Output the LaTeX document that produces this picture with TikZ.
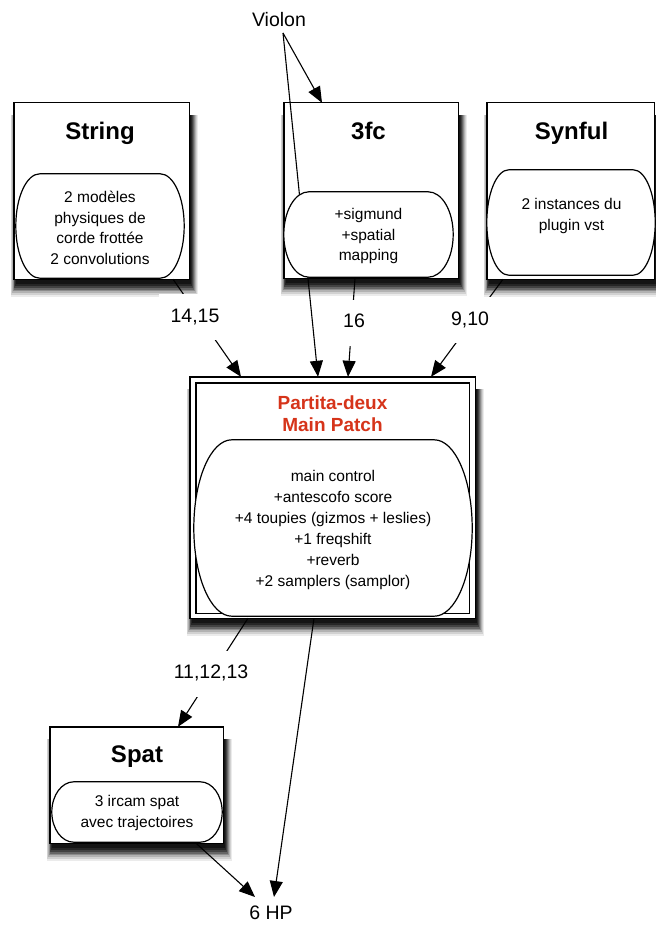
\documentclass[tikz,border=0pt]{standalone}
\usepackage{fontspec}
\setmainfont{Liberation Sans}
\usetikzlibrary{arrows.meta,calc}
\definecolor{titlered}{RGB}{214,52,26}
\tikzset{
  boxline/.style={draw, fill=white, line width=1.4pt},
  frame/.style={inner sep=0pt, draw=none},
  stad/.style={draw, fill=white, line width=1.2pt},
  title/.style={font=\bfseries\fontsize{24}{28}\selectfont, inner sep=0pt},
  redtitle/.style={font=\bfseries\fontsize{19}{22}\selectfont, text=titlered, align=center, inner sep=0pt},
  body/.style={align=center, font=\fontsize{15.5}{20.5}\selectfont, inner sep=0pt},
  mainbody/.style={align=center, font=\fontsize{15.5}{21}\selectfont, inner sep=0pt},
  txt/.style={font=\fontsize{19.5}{22}\selectfont, text height=14pt, text depth=0pt, inner xsep=2pt},
  lab/.style={font=\fontsize{19.5}{22}\selectfont, fill=white, text height=14pt, text depth=4pt, inner xsep=12pt, inner ysep=14pt},
  conn/.style={line width=1.1pt, -{Triangle[length=16pt,width=13pt]}},
}
% #2 = spread (>=0), #3 = shade
\newcommand\shadowpiece[3]{%
  \fill[black!#3] ($(#1.north west)+(2-0.5*#2,12)$) rectangle ($(#1.south east)+(2+0.6*#2,5+1.2*#2)$);}
\newcommand\shadowbox[1]{%
  \shadowpiece{#1}{10.5}{8}
  \shadowpiece{#1}{9}{18}
  \shadowpiece{#1}{7.5}{30}
  \shadowpiece{#1}{6}{45}
  \shadowpiece{#1}{4.5}{60}
  \shadowpiece{#1}{3}{74}
  \shadowpiece{#1}{1.5}{85}
  \shadowpiece{#1}{0}{92}
  \draw[boxline] (#1.north west) rectangle (#1.south east);}
\newcommand\stadiumshape[2]{%
  \draw[stad] let \p1=(#1.north west), \p2=(#1.south east) in
    (\x1+#2pt,\y1) -- (\x2-#2pt,\y1)
    arc[start angle=90,end angle=-90,x radius=#2pt,y radius={(\y1-\y2)/2}]
    -- (\x1+#2pt,\y2)
    arc[start angle=270,end angle=90,x radius=#2pt,y radius={(\y1-\y2)/2}] -- cycle;}
\begin{document}
\begin{tikzpicture}[x=1pt,y=-1pt]
\useasboundingbox (0,0) rectangle (655,933);
\fill[white] (0,0) rectangle (655,933);

% outer boxes (frames first, then shadow + box)
\node[frame, minimum width=175pt, minimum height=176pt] (string) at (101.5,191) {};
\node[frame, minimum width=174pt, minimum height=175pt] (fc) at (371,190.5) {};
\node[frame, minimum width=167pt, minimum height=176pt] (syn) at (570.5,191) {};
\node[frame, minimum width=285pt, minimum height=241pt] (main) at (332.5,497.5) {};
\node[frame, minimum width=173pt, minimum height=116pt] (spat) at (136.5,785) {};
\shadowbox{string}
\shadowbox{fc}
\shadowbox{syn}
\shadowbox{main}
\shadowbox{spat}
\draw[line width=1.4pt] ([shift={(6,6)}]main.north west) rectangle ([shift={(-6,-5)}]main.south east);

% titles
\node[title, anchor=base] (tstring) at (100,140) {String};
\node[title, anchor=base] (tfc) at (368.5,140) {3fc};
\node[title, anchor=base] (tsyn) at (571.5,140) {Synful};
\node[redtitle] (tmain) at (332.5,414) {Partita-deux\\Main Patch};
\node[title, anchor=base] (tspat) at (137,762) {Spat};

% inner frames (for the rounded panels)
\node[frame, minimum width=168pt, minimum height=104pt] (strin) at (100,226) {};
\node[frame, minimum width=169pt, minimum height=85pt] (fcin) at (368.5,234.5) {};
\node[frame, minimum width=168pt, minimum height=105pt] (synin) at (571,222.5) {};
\node[frame, minimum width=278pt, minimum height=176pt] (mainin) at (333,528) {};
\node[frame, minimum width=170pt, minimum height=60pt] (spatin) at (137,812) {};

% free labels
\node[txt, anchor=south, inner ysep=6pt] (violon) at (279,33) {Violon};
\node[txt, anchor=north, inner ysep=8pt] (hp) at (271,897) {6 HP};
\coordinate (vsrc) at ($(violon.south)+(4,0)$);

% connectors
\draw[conn] (vsrc) -- ($(fc.north)+(-49,0)$);
\draw[conn] (vsrc) -- ($(main.north)+(-14.5,0)$);
\draw[conn] ($(string.south)+(71.5,0)$) -- ($(main.north)+(-91.5,0)$);
\draw[conn] ($(fc.south)+(-16,0)$) -- ($(main.north)+(15.5,0)$);
\draw[conn] ($(syn.south)+(-67.5,0)$) -- ($(main.north)+(98.5,0)$);
\draw[conn] ($(main.south)+(-84.5,0)$) -- ($(spat.north)+(41.5,0)$);
\draw[conn] ($(main.south)+(-18.5,0)$) -- ($(hp.north)+(3,0)$);
\draw[conn] ($(spat.south)+(59.5,0)$) -- ($(hp.north)+(-16,0)$);

% rounded panels
\stadiumshape{strin}{24}
\stadiumshape{fcin}{25}
\stadiumshape{synin}{22}
\stadiumshape{mainin}{38}
\stadiumshape{spatin}{22}

% panel texts
\node[body] (bstring) at (100,228) {2 modèles\\physiques de\\corde frottée\\2 convolutions};
\node[body] (bfc) at (368.5,236) {+sigmund\\+spatial\\mapping};
\node[body] (bsyn) at (571.5,216) {2 instances du\\plugin vst};
\node[mainbody] (bmain) at (333,530) {main control\\+antescofo score\\+4 toupies (gizmos + leslies)\\+1 freqshift\\+reverb\\+2 samplers (samplor)};
\node[body] (bspat) at (137,813) {3 ircam spat\\avec trajectoires};

% edge labels
\node[lab] (l1415) at (195,317) {14,15};
\node[lab] (l16) at (354,322.5) {16};
\node[lab] (l910) at (470,320) {9,10};
\node[lab] (l111213) at (211,673.5) {11,12,13};
\end{tikzpicture}
\end{document}
